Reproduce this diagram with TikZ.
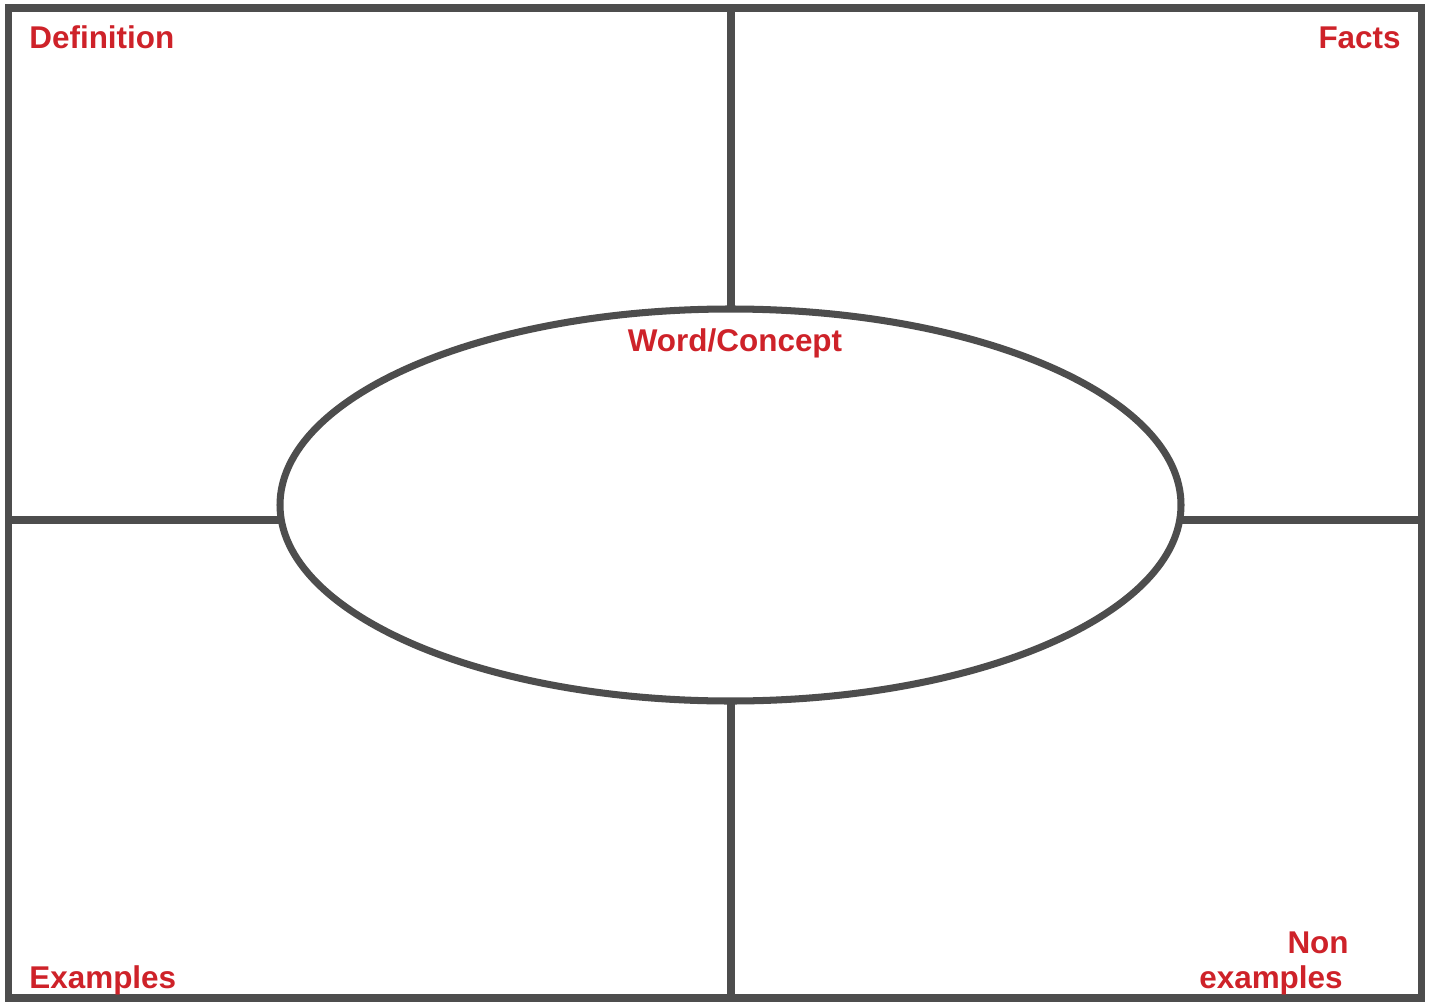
\documentclass[tikz,border=0pt]{standalone}
\usepackage{fontspec}
\setmainfont{Liberation Sans}
\usetikzlibrary{shapes.geometric,positioning}
\definecolor{framegray}{RGB}{77,77,77}
\definecolor{labelred}{RGB}{206,34,41}
\tikzset{
  frameline/.style={draw=framegray, line width=4pt},
  label/.style={text=labelred, inner sep=0pt, font=\fontsize{17.9}{19.9}\selectfont\bfseries},
}

\begin{document}
\begin{tikzpicture}[x=0.02cm, y=-0.02cm]
        \useasboundingbox (0,0) rectangle (1432,1003);

        % Frame corners and cross points
        \coordinate (tl) at (8.5,8);
        \coordinate (br) at (1421,998);
        \coordinate (top) at (731,8);
        \coordinate (bottom) at (731,998);
        \coordinate (left) at (8.5,520);
        \coordinate (right) at (1421,520);

        % Draw frame and dividers
        \draw[frameline] (tl) rectangle (br);
        \draw[frameline] (top) -- (bottom);
        \draw[frameline] (left) -- (right);

        % Central ellipse
        \node[ellipse, frameline, fill=white, minimum width=901*0.02cm,
              minimum height=392*0.02cm, inner sep=0pt] (concept) at (730.5,505) {};

        % Labels
        \node[label, anchor=base west] (definition) at (29,49) {Definition};
        \node[label, anchor=base east] (facts) at (1401,49) {Facts};
        \node[label, anchor=base] (word) at (735,351) {Word/Concept};
        \node[label, anchor=base west] (examples) at (29,988) {Examples};
        \node[label, anchor=base east, align=right] (nonexamples) at (1349,988)
              {Non\\examples\hspace*{0.12cm}};

\end{tikzpicture}
\end{document}
